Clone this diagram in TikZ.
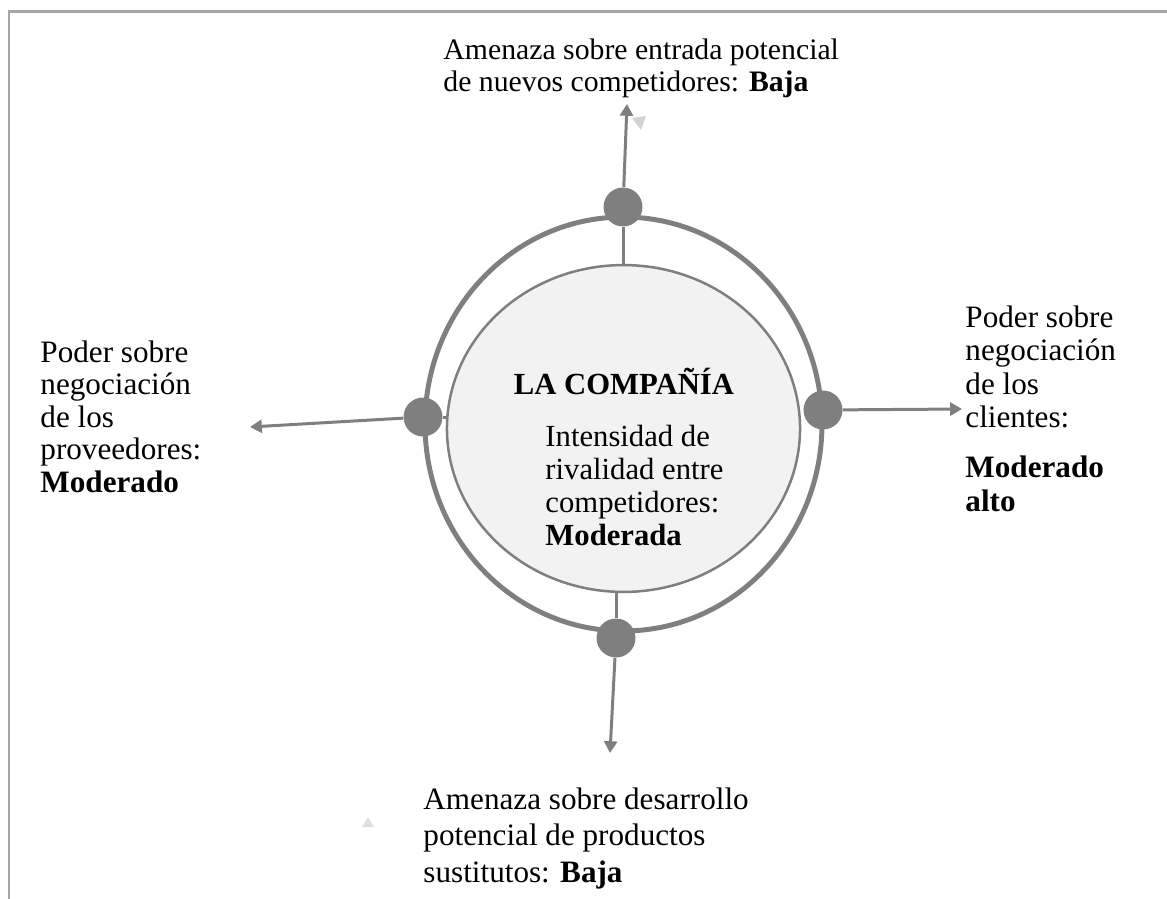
\documentclass[tikz,border=0pt]{standalone}
\usepackage{fontspec}
\setmainfont{Liberation Serif}
\usetikzlibrary{arrows.meta,shapes.geometric}
\definecolor{linegray}{HTML}{7F7F7F}
\definecolor{framegray}{HTML}{A6A6A6}
\definecolor{fillgray}{HTML}{F2F2F2}
\tikzset{
  force/.style={draw=linegray, line width=1.27pt, -{Triangle[length=5pt,width=5.5pt]}},
  spoke/.style={draw=linegray, line width=1.27pt},
  knot/.style={circle, fill=linegray, minimum size=16.5pt, inner sep=0pt},
  company/.style={ellipse, draw=linegray, fill=fillgray, line width=1.06pt,
    minimum width=149.6pt, minimum height=138.5pt, inner sep=0pt},
  txt/.style={anchor=north west, inner sep=0pt, align=left}
}
\begin{document}
\begin{tikzpicture}[x=0.4237pt,y=-0.4237pt]
  \useasboundingbox (0,0) rectangle (1167,899);
  \draw[framegray, line width=1.27pt] (1167,11) -- (9,11) -- (9,899);
  % circulos
  \draw[linegray, line width=2.1pt] (623.5,424) ellipse [x radius=84.1pt, y radius=87.7pt];
  \node[company] (cia) at (623.5,428.5) {};
  \node[knot] (ktop) at (623,207) {};
  \node[knot] (kbot) at (616,638) {};
  \node[knot] (kleft) at (423,417) {};
  \node[knot] (kright) at (823,410) {};
  \draw[spoke] (ktop |- cia.north) -- (ktop);
  \draw[spoke] (kbot |- cia.south) -- (kbot);
  \draw[spoke] (kleft -| cia.west) -- (kleft);
  % flechas
  \coordinate (etop) at (627,104);
  \coordinate (ebot) at (610,753);
  \coordinate (eleft) at (250,427);
  \coordinate (eright) at (962,409);
  \draw[force] (ktop) -- (etop);
  \draw[force] (kbot) -- (ebot);
  \draw[force] (kleft) -- (eleft);
  \draw[force] (kright) -- (eright);
  \fill[gray!35] (632,118) -- (646,116) -- (641,130) -- cycle;
  \fill[gray!25] (362,827) -- (374,827) -- (368,817) -- cycle;
  % textos
  \node[txt, font=\fontsize{12.6}{13.6}\selectfont] (ttop) at (443,38)
    {Amenaza sobre entrada potencial\\de nuevos competidores: \textbf{Baja}};
  \node[txt, font=\fontsize{13.2}{13.8}\selectfont] (tleft) at (40,340)
    {Poder sobre\\negociación\\de los\\proveedores:\\\textbf{Moderado}};
  \node[txt, font=\fontsize{13.2}{14.2}\selectfont] (tright) at (965,305)
    {Poder sobre\\negociación\\de los\\clientes:\\[7pt]\textbf{Moderado}\\\textbf{alto}};
  \node[txt, font=\fontsize{13.2}{15.5}\selectfont] (tbot) at (423,787)
    {Amenaza sobre desarrollo\\potencial de productos\\sustitutos: \textbf{Baja}};
  \node[anchor=base, inner sep=0pt, font=\fontsize{13}{13.8}\selectfont\bfseries] (ttitle) at (624,394) {LA COMPAÑÍA};
  \node[txt, font=\fontsize{13}{14}\selectfont] (tcia) at (545,424.5)
    {Intensidad de\\rivalidad entre\\competidores:\\\textbf{Moderada}};
\end{tikzpicture}
\end{document}
